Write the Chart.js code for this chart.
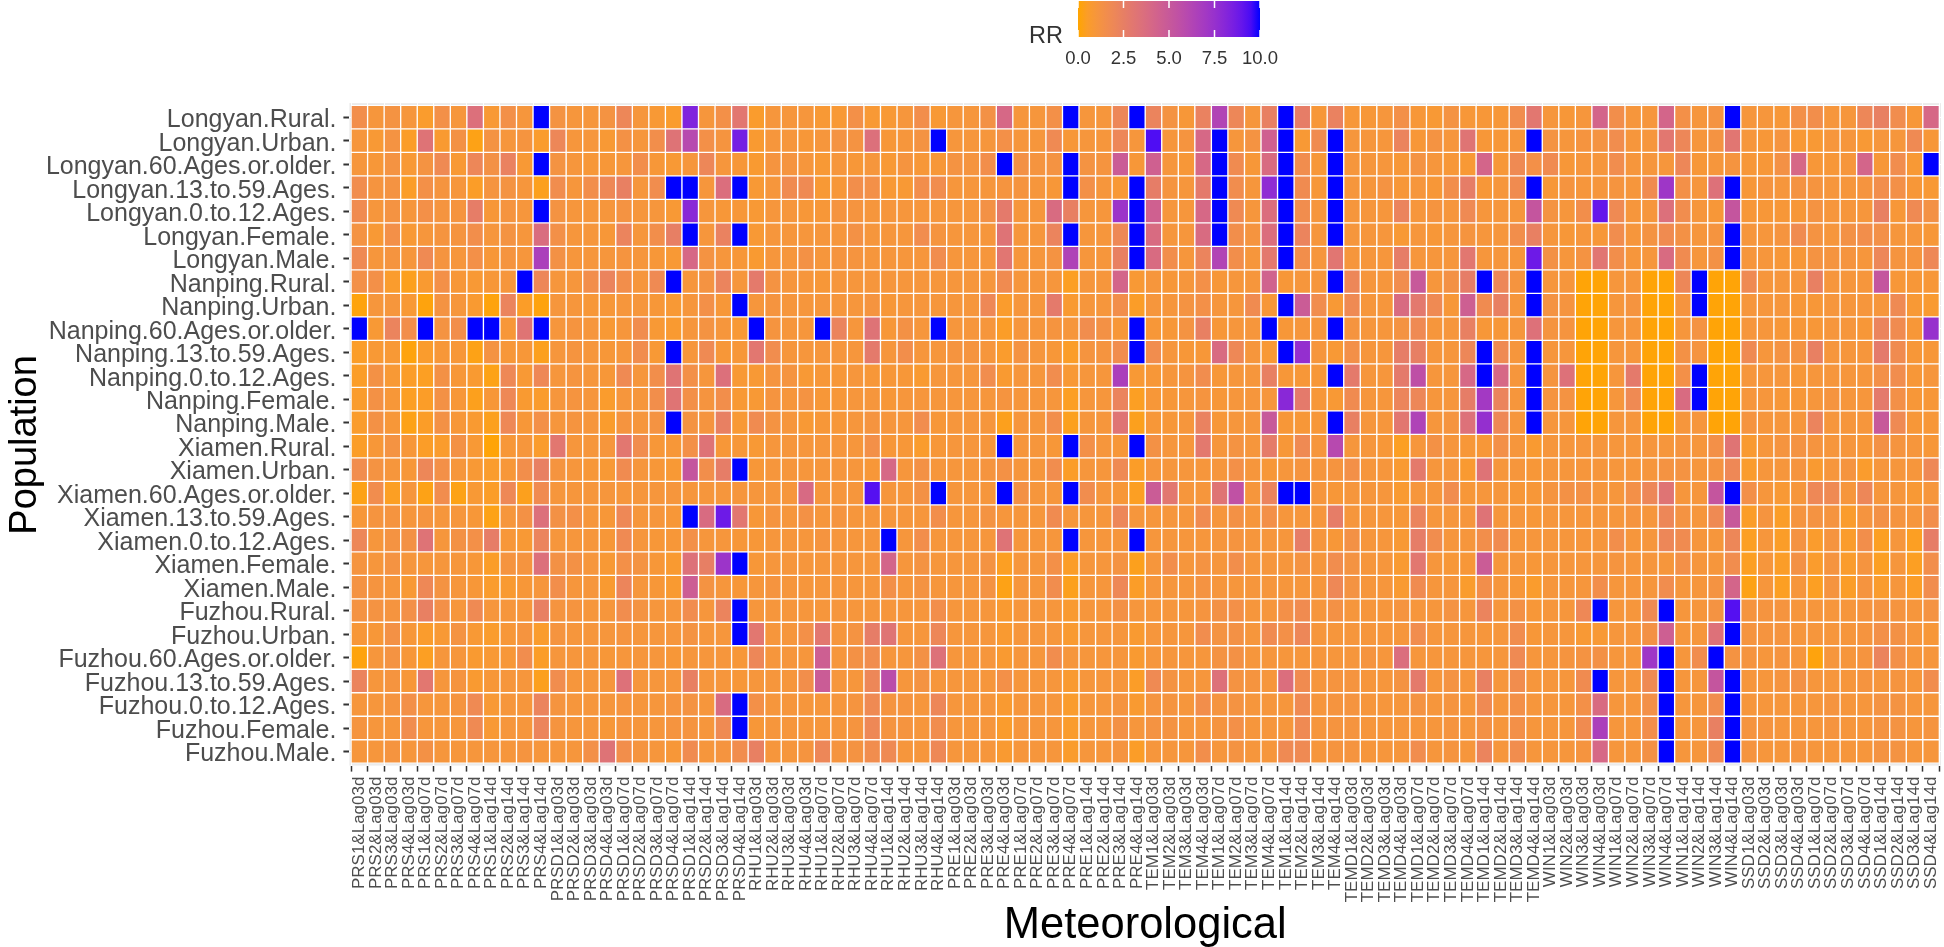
<!DOCTYPE html>
<html>
<head>
<meta charset="utf-8">
<style>html,body{margin:0;padding:0;background:#fff}canvas{display:block}</style>
<script src="https://cdn.jsdelivr.net/npm/chart.js@4"></script>
</head>
<body>
<canvas id="c" width="1944" height="947"></canvas>
<script>
const populations = ["Longyan.Rural.","Longyan.Urban.","Longyan.60.Ages.or.older.","Longyan.13.to.59.Ages.","Longyan.0.to.12.Ages.","Longyan.Female.","Longyan.Male.",
"Nanping.Rural.","Nanping.Urban.","Nanping.60.Ages.or.older.","Nanping.13.to.59.Ages.","Nanping.0.to.12.Ages.","Nanping.Female.","Nanping.Male.",
"Xiamen.Rural.","Xiamen.Urban.","Xiamen.60.Ages.or.older.","Xiamen.13.to.59.Ages.","Xiamen.0.to.12.Ages.","Xiamen.Female.","Xiamen.Male.",
"Fuzhou.Rural.","Fuzhou.Urban.","Fuzhou.60.Ages.or.older.","Fuzhou.13.to.59.Ages.","Fuzhou.0.to.12.Ages.","Fuzhou.Female.","Fuzhou.Male."];
const meteoLabels = ["PRS1&Lag03d","PRS2&Lag03d","PRS3&Lag03d","PRS4&Lag03d","PRS1&Lag07d","PRS2&Lag07d","PRS3&Lag07d","PRS4&Lag07d","PRS1&Lag14d","PRS2&Lag14d","PRS3&Lag14d","PRS4&Lag14d",
"PRSD1&Lag03d","PRSD2&Lag03d","PRSD3&Lag03d","PRSD4&Lag03d","PRSD1&Lag07d","PRSD2&Lag07d","PRSD3&Lag07d","PRSD4&Lag07d","PRSD1&Lag14d","PRSD2&Lag14d","PRSD3&Lag14d","PRSD4&Lag14d",
"RHU1&Lag03d","RHU2&Lag03d","RHU3&Lag03d","RHU4&Lag03d","RHU1&Lag07d","RHU2&Lag07d","RHU3&Lag07d","RHU4&Lag07d","RHU1&Lag14d","RHU2&Lag14d","RHU3&Lag14d","RHU4&Lag14d",
"PRE1&Lag03d","PRE2&Lag03d","PRE3&Lag03d","PRE4&Lag03d","PRE1&Lag07d","PRE2&Lag07d","PRE3&Lag07d","PRE4&Lag07d","PRE1&Lag14d","PRE2&Lag14d","PRE3&Lag14d","PRE4&Lag14d",
"TEM1&Lag03d","TEM2&Lag03d","TEM3&Lag03d","TEM4&Lag03d","TEM1&Lag07d","TEM2&Lag07d","TEM3&Lag07d","TEM4&Lag07d","TEM1&Lag14d","TEM2&Lag14d","TEM3&Lag14d","TEM4&Lag14d",
"TEMD1&Lag03d","TEMD2&Lag03d","TEMD3&Lag03d","TEMD4&Lag03d","TEMD1&Lag07d","TEMD2&Lag07d","TEMD3&Lag07d","TEMD4&Lag07d","TEMD1&Lag14d","TEMD2&Lag14d","TEMD3&Lag14d","TEMD4&Lag14d",
"WIN1&Lag03d","WIN2&Lag03d","WIN3&Lag03d","WIN4&Lag03d","WIN1&Lag07d","WIN2&Lag07d","WIN3&Lag07d","WIN4&Lag07d","WIN1&Lag14d","WIN2&Lag14d","WIN3&Lag14d","WIN4&Lag14d",
"SSD1&Lag03d","SSD2&Lag03d","SSD3&Lag03d","SSD4&Lag03d","SSD1&Lag07d","SSD2&Lag07d","SSD3&Lag07d","SSD4&Lag07d","SSD1&Lag14d","SSD2&Lag14d","SSD3&Lag14d","SSD4&Lag14d"];
const legendTicks = [0,2.5,5,7.5,10];

const longyanRural=[1.5,1,1.2,1,.6,1.4,1,3.5,.8,1.4,1,10,1.2,1,1,1.2,2,1,.8,.6,8.3,1,1.4,3,.6,1,1,1,.8,.8,1.4,.8,.8,1,1.5,.8,1,1,1.3,4,1,1,1.4,10,1,1,2,10,2.2,1.2,.9,2.3,6.3,2,1,2.4,10,2.6,.9,2.3,.9,.9,1,1.4,.9,.8,1.2,.9,.9,.9,1.6,3,1,.9,1,4.2,1.5,1,1,4.2,1.4,1,1.2,10,1,1,.9,1.4,1.5,1,1,2,2.4,1.6,.9,4];
const longyanUrban=[1,.8,1.2,.5,3.3,.7,1.3,.2,1.2,1,1.1,.6,2,1,1,.8,1.3,1,1.5,3.3,6,1.4,1.1,8.6,.7,1,1,.9,1,1.2,1.2,3.5,.9,1,1.2,10,1,1,1,1.4,1,1,1.8,.9,1,1,2,1,9.4,1,1.1,4,10,1,1.2,4.5,10,.8,1.7,10,1,1,1,2.2,.9,1.2,1,3.2,.9,.9,1,10,1.2,1,1.1,1.2,1.6,1,1,3,2,1,1.2,3.1,1,.9,1.1,.8,.8,1,1,.8,1,1,1.8,.9];
const longyan60=[1,.9,1.2,.8,1.2,1.8,.8,2,1.3,2.3,.8,10,1.2,1,.9,.9,1,1.5,.9,.8,1,2,1,.9,.7,1.1,1.1,1,.8,1,.9,1,.8,1.1,.9,.9,1.2,1.1,1.5,10,1.3,1.1,1.2,10,1.2,1.1,4.8,.9,4.5,1,.9,4,10,1.7,.9,3.8,10,1.6,.9,10,1,1,1,.9,1.2,1,.9,.8,4.2,.9,1.8,1.4,1.7,.9,1,1,1.6,1,1,1,2,.9,1,1.1,.9,.9,1.3,4,.9,.9,1,4.2,.9,1.6,.8,10];
const longyan13=[1.6,1.1,1.2,.5,1.4,1.1,1,.5,1.1,1.2,1,.3,1.6,1,1.5,1.9,2.4,1,1.6,10,10,1,3.6,10,.8,1,1.7,1.8,.8,.9,1.5,1.4,.8,.8,1.5,1.6,1,1,1,1.1,1.1,1,.9,10,1.4,1,.8,10,2.6,1.1,1,2.8,10,1.6,1,7.8,10,1.7,.9,10,1,1,1.2,.9,1,.9,1.5,2.6,.9,1,1.7,10,.9,1.1,1,1,1.1,1,1.7,7.2,1.4,1,3.4,10,.9,1.1,1,1.2,1.1,1,1,1.1,1.5,1.4,.9,.8];
const longyan0=[1.7,1,1.2,1,1.4,1.1,1.1,2.6,.9,1.1,1,10,1.2,1,1,1,1.2,1,1,.8,8,1,.9,.9,.8,1,1,.9,.9,1.1,1.1,1,1,1,1,1,1,1,1.3,2.8,1,1,3.8,2.4,1,1,7.3,10,4.5,1,1,4,10,1.8,1,3.6,10,1.6,1,10,1,1,1,2.2,1,1.1,1,1.8,1,1,1,5.2,1.2,1,1.5,9,1.8,1,1,3.5,1.6,1,.9,5.2,.9,.9,.9,.9,1.2,1,1,1,2.4,.9,1.8,1.3];
const longyanFemale=[1.2,.8,1.4,.8,1,1.1,1.1,1.5,1,1.2,1,3.7,1.4,1,1,.9,2.2,1,1.5,2.5,10,1,2.3,10,.8,1,1,1,1,1,1.3,1,1,1,1.6,1.1,1,1,1,3.3,1,1,2.2,10,1,1,1.9,10,3.8,1,1,3.8,10,1.5,1.1,3.6,10,2.2,1,10,1,1,1,.8,1,.9,1,1.1,1,1,1.5,2.4,1,.9,1,.9,1.6,1,1.2,1.7,1.3,1,1.1,10,1,1,1.1,1.7,1.2,1,1.3,1.5,1.4,1,1,.9];
const longyanMale=[1.8,1,1.1,1,1.8,1.1,1,1.4,.9,1.1,1,6.6,1.3,1,1,1,1.1,1,.9,.8,4,1.2,1,.9,.7,1,1,1.3,1,1.1,1.1,1,1,1,1,1.6,1,1,1,3.1,1,1,1.2,6.4,1,1,2.4,10,3.8,1.5,1,2.2,6.3,1.5,1,2.9,10,1.5,1,3.1,1,1,1,2.6,1,1,1,3,1,1,1,8.8,1.3,1,1.2,3.1,1.5,1,1,3.8,1.7,1,1.3,10,1,1,.9,.9,1.2,1.1,1.1,1,2,1.1,1.1,1.9];
const nanpingRural=[1.4,1.4,.6,.3,.7,1.4,.9,.8,.9,1,10,2,1,1,1.5,2.2,1.5,1,1.8,10,1,1.2,2.2,1,2.8,1.2,1,1,.9,1,1,1,1,1,1,1,1,1,1,1.7,1,1,1,.4,1,1,4.2,.8,1,.9,1,1.4,.9,1,1,4.4,.9,1,1,10,2,1,1,1.6,5,1,1.3,2.6,10,2,1.1,10,1,1,.05,.05,1,1,.05,.05,2,10,.05,.05,1.8,1,1,1,2.4,1,1,1,5.2,.9,.9,.9];
const nanpingUrban=[.1,1,1,.8,.1,1.2,1,.7,.1,2.2,.5,.1,1,1,.9,.9,1,1,.9,.8,1,1.4,.9,10,1,1.1,1,1,1,1,1,1.1,.9,1,1,1,1,1,1.9,.6,1,1,2.8,.7,1,1,1.5,.5,1,1,1.2,1.4,1,1,1.7,.9,10,4.8,1.6,.8,1.8,1,1,3.8,2.9,1.8,.9,4.6,1.7,2.4,1,10,1.2,1.1,.05,.05,1,1.1,.05,.05,1.1,10,.05,.05,1,1,1,.9,.9,1,1,1,1,1.8,.8,.7];
const nanping60=[10,.8,2.2,1.5,10,1.2,1.5,10,10,.9,3.2,10,1,1.1,1,.8,1,1.6,.8,.7,1,1.2,1,.8,10,1.1,1,1,10,2.2,1,3.3,.9,1.3,1,10,1,1,1,.5,1,1,1.1,1,1.6,1.3,.9,10,.9,.9,1.2,2.4,.9,1,1,10,.9,1,1,10,1.1,1,1,1.2,1.8,1,1,2.4,.9,.9,1,3.4,1.1,1.1,.05,.05,1,1,.05,.05,1,1.2,.05,.05,1,1,.9,.9,.9,1,1,.9,2.2,1.7,.9,7.5];
const nanping13=[.5,.8,.8,.1,.6,.9,.9,.2,1.2,.9,.9,.3,1,1.1,1,.9,1,1.6,.8,10,1,1.8,.9,.9,3,1.6,1,1,1,1,1,2.8,1,1.5,1,1,1.1,1.1,1,.6,1.2,1,.9,.5,1.1,1.1,1.6,10,1.6,1,.9,.9,3.8,1.9,1,.8,10,7.6,1,.8,1.4,1,1,2.6,2.5,1,1,2,10,1.8,1,10,1,1,.05,.05,1,1,.05,.05,1.3,1.1,.05,.05,1.8,1,1.2,1.2,2.4,1,1,1,2.8,1.7,.9,.9];
const nanping0=[.5,1.3,.8,.5,.4,1.3,.9,.7,.2,1.9,.8,1.9,1,1.1,1,.9,1.8,1,1.5,3.2,1.4,1,3.5,.8,.8,1.1,1.1,.8,.9,.9,1,.9,.9,.9,.7,1,1,1,1.6,.7,1,1,1.6,.8,1,1,6.6,.8,.9,1,1.1,1.6,.9,1,1,2.4,.9,.9,.9,10,2.8,1,1,2.8,5.6,1,1,4,10,4,1,10,1.1,3.4,.05,.05,1,2.8,.05,.05,1.4,10,.05,.05,1,1,1,.9,1,1,1,1,1.4,1.6,.9,1];
const nanpingFemale=[.6,1.3,.9,.4,.5,1.3,.9,.3,.9,1.9,.7,.6,1,1.1,1,.6,1,1,1.5,3.2,1.4,1.1,1.5,.8,.8,1.1,1,1.2,.9,.9,1,1,.9,1,1,1,1,1,1,1.1,1,1,1,.4,1,1,2.2,.4,.9,.9,1,1.1,.9,1,1,1,8,2.8,.9,.8,1.7,1,1,2.1,2,1,1,2.6,7,2.2,1,10,1.1,1.2,.05,.05,1,1.8,.05,.05,3.8,10,.05,.05,1,1,.9,.9,1,1.1,1,1,2.8,1.4,.9,.9];
const nanpingMale=[.6,1.3,.9,.2,.5,1.3,.9,.7,.3,1.9,.9,1.4,1,1.1,1,.6,1.1,1,1.2,10,1.2,1.1,2.4,.8,1.7,1.2,1,.8,.9,.9,1,1.1,1,1,1.6,.9,1,1,1,.3,1,1,1.5,.3,1,1,3.2,.3,.9,.9,1,2.3,.9,1,1,5,.9,.9,.9,10,2.4,1,1,3,6.4,1,1.1,3.4,7.6,1.9,1,10,1,1,.05,.05,1,1,.05,.05,1,1,.05,.05,1.1,1,1,1,2.2,1,1,1,5,1.8,.9,.9];
const xiamenRural=[.5,.9,1.2,.9,.5,.6,1.3,.8,.05,.9,1,.6,3,1,1,1,3,1.6,.9,.9,1.4,3.3,.9,.9,.8,1,1,1,1,1,1,1.4,.9,.9,.6,.9,1,1,1,10,1,1,.9,10,1.4,1,.9,10,1.3,1,1,2.9,1,1.2,1,2.7,.9,1.8,1,6,1,1,.9,.4,1,1.3,1,.9,.9,1.4,1,.7,1,1,1,1,1,1,1,1,1.1,1,1.4,3.2,.7,1,1.1,1.2,1.1,1,1,.9,1.3,1.1,1,.9];
const xiamenUrban=[1.6,1.2,1,.9,2,1.4,1,.8,.6,.9,1.5,2.4,1.1,1,.9,.8,1.7,1,.9,.8,5.2,1.5,2.6,10,.9,1,1,1,1,1,1,.9,4,1,1.3,1,1,1,1.1,1.3,1,1,1.6,.5,1,1,1.8,.5,1,1,1,1,1,1.4,1,.9,1,1.1,1,1.1,1.4,1,1,.7,2.8,1,1,.7,3.3,1,1,.9,1,1,1,1,1,1,1,1.2,1.2,1,1.2,1.9,.6,1,1,1.1,.7,1,1.1,.6,1,1,1,1.9];
const xiamen60=[.2,1.6,.4,1,.2,1.6,.2,.8,.5,1.9,.3,1.7,1,1,1,1,1,1,1,1,1,1,1,1,1,1,1,3.9,1,1,1,9.3,1,1,1.3,10,1,1,1,10,1.3,1,1,10,1.6,1,.9,.4,4.8,3,1,1,3.2,5.5,1,2.2,10,10,1,.9,1,1,1,.7,1,1,1.6,.9,1,1,.9,.9,1.1,1.3,1.3,1,1,1.4,2,3.2,1,1,5.2,10,1.4,1,.8,1,1.9,1.8,1,2,1,1,.8,1];
const xiamen13=[.9,1.1,1.1,1,1.1,1,1,.9,.2,1,1.3,3.5,1.3,1.4,1,.9,1.9,1,1,.9,10,3.8,8.8,3,.9,1.1,1,1.3,1,1.1,1,1,1,1,1,1.5,1,1,1.2,1,1,1,1.7,1,1,1,2,1,1,1,1,1.7,1,1.3,1,1.4,1,1,1,2.6,1,1,1,.9,2.2,1,1,1,3.3,1,1,.9,1,1,1,1,1,1.1,1,2,1.2,1,1.8,5,.5,1.1,.5,1.1,1.2,1.1,.6,1.1,1.3,1.1,1,1.5];
const xiamen0=[2,1,1.2,1.3,3.3,1,1.3,1.4,2.6,.9,.8,2.2,1,1,1,.9,1.8,1,.9,.9,1.4,1,1,.9,.9,1,1,1,1.1,1,1,1,10,1,1.5,1,1,1,1,3.3,1,1,1,10,1,1,1,10,1,1,1,1,1,1.1,1,1,1,2.6,1,.9,1.3,1,1,.8,2.6,1.6,1,1,1.5,1.7,1,1,1,1,1,1,1.5,1,1,2,1.7,1,1,2,.4,1,.5,1.2,.6,1.1,.6,1.5,.4,1,.4,2.6];
const xiamenFemale=[1.1,1,1.2,1,1,1,1,.9,.5,1.1,1.1,3.5,1.3,1.3,1,.8,1.4,1.2,.9,.7,3.4,2.5,7.3,10,.9,1,1,1,1,1,1,1,4.2,1,1.2,1,1,1,1.2,.4,1,1,1.4,.5,1,1,1.2,.3,1,1.5,1,1.2,1,1.5,1,1,1,1.2,1,1.6,1.2,1,1,.7,3,1,.9,.9,4.8,1,1,.9,1,1,1,1,1.1,1,1,1,1.4,1,1,1.6,.4,1,.5,1.3,.6,1.1,.6,1.1,.4,1,.4,1.5];
const xiamenMale=[1.2,1.1,1,.8,1.9,1.2,1,.9,.6,.7,.9,1,1.5,1,1,.7,2.1,1,.9,.7,4.7,1.2,1,.9,1,1.1,1,1,1,1,1,1,1.4,1,1.2,1,1,1,1.2,.2,1,1,1.6,.3,1,1,1.9,.5,1,1,1,1.2,1,1,1,1,1,1,1,1.9,1.2,1,1,.7,1.7,1,1,.6,1.5,1,.9,.6,1,1,1,1.5,1,1,1,1.6,1,1,1.2,4.2,.2,1,.4,1,.4,1.1,.5,1.1,.6,1,.5,1.6];
const fuzhouRural=[1.2,1.2,1.1,1.4,2.4,1.4,1,1.8,1,1,1,2.4,1.1,1.1,1,1,1.6,1.2,1,1,1.6,1,2.2,10,1,1,1,1,1,1,1,1,1,1,1,1.5,1,1,1,.7,1,1,1,.7,1,1,1.3,1,1,1,1,1.1,1.3,1.4,1,1,1.4,1.7,1,1.3,1,1,1,1.1,1,1,1.2,1,2.2,1,1.3,.9,1,1,1.9,10,1,1,1.8,10,1,1,1.2,9.3,1.1,1.1,1.1,1,1,1,1,1.1,1.2,1.1,1,1.2];
const fuzhouUrban=[.9,.9,1.3,.9,.6,.8,1.2,.8,.6,.9,1.1,.6,1.1,1,1,1,1.1,1,1,1,1.2,1,1,10,3,1,1,1.4,3,1,1.2,2.6,3.2,1,1,2,1,1,1,.7,1,1,1,.7,1,1,1,.7,1,1,1,1.6,1.2,1.3,1,1.7,1.4,2,1,1,1,1,1,1,1.6,1,1,1,1,1,1.6,.9,1,1,.8,.8,1,1,1.3,4.6,1,1,3.4,10,1.1,1.1,1.1,1,1,1,1,1.1,1.4,1.3,1,.9];
const fuzhou60=[.1,1,1.2,.9,.4,1,1,.7,.8,.9,1.6,.5,1,1,1,.9,1,1,1,.9,1,1,1,.9,2,1,1,1,4.6,1,1.3,1.6,1,1,1.3,3.4,1,1,1,.7,1,1,1.6,1,1,1,1,.7,1,1,1,1,1.2,1.3,1,1,1,1,1,1,1,1.1,1,3.6,1,1,1,1,1,1,1.8,1,1,1.1,1.2,1.3,1,1,7.2,10,1,1.6,10,1.2,1.1,1,1.1,1,.1,1,1,1.1,2.2,1.4,1,1];
const fuzhou13=[2.2,1,1.1,.9,3,1,1.1,.7,.9,1,1,.3,1.6,1,1,1,3.4,1,1,1,2.4,1,1,.9,1,1,1,1.5,4.8,1,1,2,5.8,1,1.2,1,1,1,1,1.4,1,1,1,.7,1,1,1,.5,1.8,1.2,1,1,3.4,1.2,1.1,1,3.6,1.7,1,1.1,1.1,1,1,1.2,2.8,1,1.2,1,2.4,1,1.6,1,1,1,1.7,10,1,1,1.8,10,1,1,5.2,10,1,1,1.1,1.3,1,1,1,1.1,1,1.1,1,1.6];
const fuzhou0=[1,1,1.1,1.4,1,1,1.1,1.8,.8,1,1,2.2,1.1,1,1,1,1.1,1,1,1.1,1.2,1,3.8,10,1.4,1,1,1,1,1,1.1,1.8,1.1,1.1,1,2,1,1,1,.7,1,1,1,.6,1,1,1.1,.7,1.1,1.1,1,1.5,1.1,1.2,1,1,1,1.8,1,1.1,1.1,1,1,1,1.2,1,1.1,1,1.8,1,1.4,1,1,1,1.4,3.8,1,1,1.4,10,1,1,1.6,10,1,1,1,1,1,1.1,1,1,1.2,1.2,1,1];
const fuzhouFemale=[1.1,1,1,1.6,1,1,1,1.8,.8,1,1,2.1,1.1,1,1,.9,1.1,1,1,1.1,1.1,1,1.8,10,.9,1,1,1,1,1,1.1,1.9,1.1,1.1,1,1.6,1,1,1,.6,1,1,1,.6,1,1,1.3,1,1.2,1.2,1,1,1.1,1.4,1,1,1,1.8,1,1.1,1.1,1,1,1,1,1,1.1,1,1.3,1,1.4,1,1,1,1.7,6.6,1,1,1.5,10,1,1,2.4,10,1.1,1.1,1,1,1,1.1,1,1,1.2,1.2,1,1.1];
const fuzhouMale=[1,1,1.1,1,1.3,1,1,1,1,1,1.1,1,1,1,1.4,3.3,1.5,1.1,1,.9,1.7,1,1.1,1.6,2.4,1,1,1.1,2,1.1,1.2,1.6,1.8,1,1,1.9,1,1,1,.7,1,1,1,.6,1,1,1.1,.5,1,1,1,1.5,1,1.2,1,1,1.8,1.8,1,1.1,1.1,1,1,1,1.6,1,1.1,1,2.2,1,1.6,1,1,1,1.1,4,1,1,1.3,10,1,1,1.8,10,1.1,1,1,1.1,1,1,1,1,1.2,1.2,1,1];

const rowsValues = [longyanRural,longyanUrban,longyan60,longyan13,longyan0,longyanFemale,longyanMale,
  nanpingRural,nanpingUrban,nanping60,nanping13,nanping0,nanpingFemale,nanpingMale,
  xiamenRural,xiamenUrban,xiamen60,xiamen13,xiamen0,xiamenFemale,xiamenMale,
  fuzhouRural,fuzhouUrban,fuzhou60,fuzhou13,fuzhou0,fuzhouFemale,fuzhouMale];

// ggplot2-style gradient: orange to blue, interpolated in CIE Lab
function rgb2lab(c){
  const f=v=>{v/=255;return v>0.04045?Math.pow((v+0.055)/1.055,2.4):v/12.92;};
  const r=f(c[0]),g=f(c[1]),b=f(c[2]);
  const X=(0.4124*r+0.3576*g+0.1805*b)/0.95047,Y=0.2126*r+0.7152*g+0.0722*b,Z=(0.0193*r+0.1192*g+0.9505*b)/1.08883;
  const h=t=>t>0.008856?Math.cbrt(t):7.787*t+16/116;
  return [116*h(Y)-16,500*(h(X)-h(Y)),200*(h(Y)-h(Z))];
}
function lab2rgb(l){
  const fy=(l[0]+16)/116,fx=fy+l[1]/500,fz=fy-l[2]/200;
  const g=t=>t*t*t>0.008856?t*t*t:(t-16/116)/7.787;
  const X=g(fx)*0.95047,Y=g(fy),Z=g(fz)*1.08883;
  const lin=[3.2406*X-1.5372*Y-0.4986*Z,-0.9689*X+1.8758*Y+0.0415*Z,0.0557*X-0.2040*Y+1.0570*Z];
  return lin.map(v=>{v=Math.max(0,Math.min(1,v));return Math.round(255*(v>0.0031308?1.055*Math.pow(v,1/2.4)-0.055:12.92*v));});
}
const LOW=rgb2lab([255,165,0]),HIGH=rgb2lab([0,0,255]);
function colorFor(v){
  const t=Math.max(0,Math.min(1,v/10));
  const c=lab2rgb(LOW.map((a,i)=>a+(HIGH[i]-a)*t));
  return `rgb(${c[0]},${c[1]},${c[2]})`;
}

const FONT='"Liberation Sans", Arial, sans-serif';
const plotBg={id:'plotBg',beforeDraw(ch){const a=ch.chartArea,x=ch.ctx;x.save();x.fillStyle='#ebebeb';x.fillRect(a.left,a.top,a.right-a.left,a.bottom-a.top);x.restore();}};
const rrLegend={id:'rrLegend',afterDraw(ch){
  const x=ch.ctx,L=1078,W=182,T=1,H=36;
  x.save();
  const g=x.createLinearGradient(L,0,L+W,0);
  for(let i=0;i<=20;i++)g.addColorStop(i/20,colorFor(i/2));
  x.fillStyle=g;x.fillRect(L,T,W,H);
  x.font='18.5px '+FONT;x.textAlign='center';x.textBaseline='middle';
  legendTicks.forEach(v=>{
    const px=L+v/10*W;
    x.fillStyle='#333333';x.fillText(v.toFixed(1),px,59);
    x.strokeStyle='#fff';x.lineWidth=1.5;
    x.beginPath();x.moveTo(px,T);x.lineTo(px,T+7);x.moveTo(px,T+H-7);x.lineTo(px,T+H);x.stroke();
  });
  x.fillStyle='#333';x.font='23.5px '+FONT;x.textAlign='left';x.fillText('RR',1029,36.5);
  x.restore();
}};

const datasets=rowsValues.map((vals,r)=>({
  label:populations[r],
  data:vals.map((v,i)=>({x:i,y:[r-0.5,r+0.5]})),
  backgroundColor:vals.map(colorFor),
  borderColor:'#ffffff',borderWidth:1,borderSkipped:false,
  grouped:false,barPercentage:1,categoryPercentage:1
}));

new Chart(document.getElementById('c'),{
  type:'bar',
  data:{datasets},
  plugins:[plotBg,rrLegend],
  options:{
    responsive:false,animation:false,
    layout:{padding:{left:0,right:3,top:103.1,bottom:0}},
    plugins:{legend:{display:false},tooltip:{enabled:false}},
    scales:{
      x:{type:'linear',offset:false,min:-0.6,max:95.6,
        afterBuildTicks(s){s.ticks=meteoLabels.map((_,i)=>({value:i}));},
        afterFit(s){s.height=181.4;s.paddingLeft=0;s.paddingRight=0;},
        ticks:{autoSkip:false,minRotation:90,maxRotation:90,padding:5,color:'#4d4d4d',font:{family:FONT,size:17},callback:v=>meteoLabels[v]},
        grid:{color:'#ffffff',lineWidth:1,tickColor:'#333333',tickWidth:1.5,tickLength:6},border:{display:false},
        title:{display:true,text:'Meteorological',color:'#000',font:{family:FONT,size:43.5},padding:{top:0,bottom:-5}}
      },
      y:{type:'linear',reverse:true,min:-0.6,max:27.6,
        afterBuildTicks(s){s.ticks=populations.map((_,i)=>({value:i}));},
        afterFit(s){s.width=349.4;s.paddingTop=0;s.paddingBottom=0;},
        ticks:{autoSkip:false,padding:7,color:'#4d4d4d',font:{family:FONT,size:25,lineHeight:'6px'},callback:v=>['',populations[v]]},
        grid:{color:'#ffffff',lineWidth:1,tickColor:'#333333',tickWidth:2,tickLength:6},border:{display:false},
        title:{display:true,text:'Population  ',color:'#000',font:{family:FONT,size:38},padding:{top:2.5,bottom:0}}
      }
    }
  }
});
</script>
</body>
</html>
